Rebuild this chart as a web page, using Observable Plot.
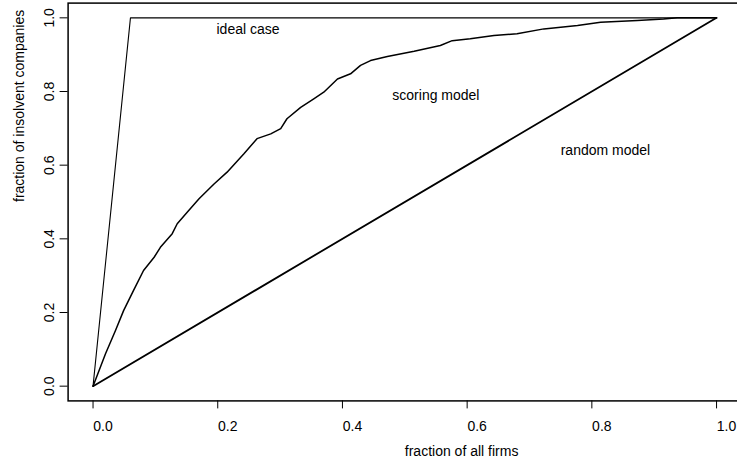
<!DOCTYPE html>
<html><head><meta charset="utf-8">
<script src="https://cdn.jsdelivr.net/npm/d3@7"></script>
<script src="https://cdn.jsdelivr.net/npm/@observablehq/plot@0.6"></script>
<style>
html,body{margin:0;padding:0;background:#fff;overflow:hidden;width:737px;height:466px}
</style>
</head><body><div id="chart"></div>
<script>
const xTicks = [0, 0.2, 0.4, 0.6, 0.8, 1.0];
const yTicks = [0, 0.2, 0.4, 0.6, 0.8, 1.0];
const idealX = [0, 0.06, 1];
const idealY = [0, 1, 1];
const randomX = [0, 1];
const randomY = [0, 1];
const scoringX = [0, 0.020, 0.036, 0.049, 0.065, 0.081, 0.098, 0.108, 0.127, 0.135, 0.151, 0.170, 0.194, 0.215, 0.242, 0.263, 0.285, 0.301, 0.311, 0.333, 0.354, 0.370, 0.392, 0.413, 0.429, 0.445, 0.472, 0.515, 0.557, 0.576, 0.605, 0.643, 0.680, 0.723, 0.777, 0.814, 0.873, 0.915, 0.937, 1];
const scoringY = [0, 0.088, 0.151, 0.205, 0.260, 0.314, 0.350, 0.377, 0.414, 0.441, 0.472, 0.509, 0.549, 0.581, 0.631, 0.672, 0.685, 0.699, 0.726, 0.757, 0.780, 0.798, 0.834, 0.848, 0.871, 0.884, 0.895, 0.909, 0.925, 0.938, 0.943, 0.952, 0.957, 0.970, 0.979, 0.988, 0.993, 0.997, 1.0, 1.0];
const labelNames = ["ideal case", "scoring model", "random model"];
const labelX = [0.198, 0.48, 0.75];
const labelY = [0.969, 0.788, 0.641];
const xTitle = "fraction of all firms";
const yTitle = "fraction of insolvent companies";

const pts = (xs, ys) => xs.map((x, i) => ({x, y: ys[i]}));
const fmt = d3.format(".1f");
const FONT = "'Liberation Sans', Arial, Helvetica, sans-serif";

const chart = Plot.plot({
  width: 741, height: 466,
  marginLeft: 67.6, marginRight: 0, marginTop: 2.6, marginBottom: 65.6,
  x: {domain: [-0.04, 1.04]},
  y: {domain: [-0.04, 1.04]},
  style: {fontFamily: FONT, fontSize: "14px", color: "black", background: "white", maxWidth: "none", overflow: "hidden"},
  marks: [
    Plot.axisX({ticks: xTicks, tickSize: 8, fill: "none", label: null, strokeWidth: 1}),
    Plot.axisX({ticks: xTicks, tickSize: 0, tickPadding: 20, stroke: "none", tickFormat: fmt, dx: 10, label: null, fontSize: 14}),
    Plot.axisY({ticks: yTicks, tickSize: 8, fill: "none", label: null, strokeWidth: 1}),
    Plot.axisY({ticks: yTicks, tickSize: 0, tickPadding: 14, stroke: "none", tickFormat: fmt, tickRotate: -90, label: null, fontSize: 14}),
    Plot.line(pts(idealX, idealY), {x: "x", y: "y", stroke: "black", strokeWidth: 1.1}),
    Plot.line(pts(randomX, randomY), {x: "x", y: "y", stroke: "black", strokeWidth: 1.8}),
    Plot.line(pts(scoringX, scoringY), {x: "x", y: "y", stroke: "black", strokeWidth: 1.5}),
    Plot.text(labelNames, {x: (d, i) => labelX[i], y: (d, i) => labelY[i], textAnchor: "start", fontSize: 14, fill: "black"}),
    Plot.text([xTitle], {frameAnchor: "bottom", textAnchor: "start", dy: 55, fontSize: 14, fill: "black"}),
    Plot.text([yTitle], {frameAnchor: "left", rotate: -90, dx: -49, fontSize: 14, fill: "black"}),
    Plot.frame({stroke: "black", strokeWidth: 1.5})
  ]
});
document.getElementById("chart").appendChild(chart);
</script>
</body></html>
